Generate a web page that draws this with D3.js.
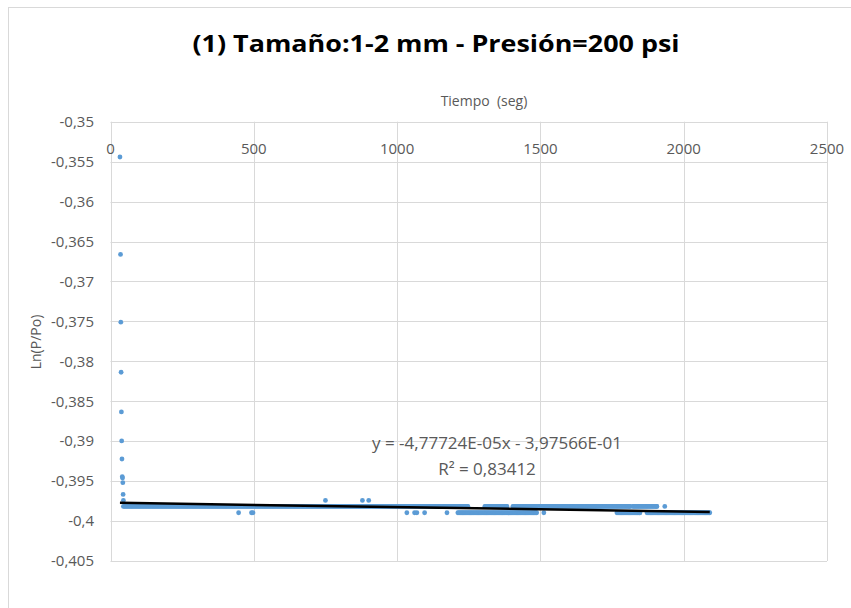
<!DOCTYPE html>
<html>
<head>
<meta charset="utf-8">
<script src="https://cdn.jsdelivr.net/npm/d3@7"></script>
<style>
  html, body { margin: 0; padding: 0; background: #fff; }
  svg { display: block; font-family: "Open Sans", "Noto Sans", sans-serif; }
</style>
</head>
<body>
<svg id="chart" width="851" height="608"></svg>
<script>
// Pressure decay run: Ln(P/Po) against time (s)
const xTicks = [0, 500, 1000, 1500, 2000, 2500];
const yTicks = [-0.35, -0.355, -0.36, -0.365, -0.37, -0.375, -0.38, -0.385,
                -0.39, -0.395, -0.4, -0.405];

// first readings while pressure is still falling
const earlyTimes  = [33, 35, 36, 37, 38, 39, 40, 41, 42, 43, 44, 45];
const earlyValues = [-0.35442, -0.36662, -0.37510, -0.38137, -0.38634, -0.38997,
                     -0.39223, -0.39444, -0.39460, -0.39519, -0.39666, -0.39741];

// three recorded levels once the reading settles
const levels = { high: -0.39742, mid: -0.39817, low: -0.39896 };

// stretches of time (s) logged at each level, sampled every `sampleStep` seconds
const sampleStep = 4;
const midRuns  = [[45, 1247], [1306, 1383], [1404, 1812], [1822, 1906]];
const midSingles = [1934];
const lowRuns  = [[1212, 1487], [1767, 1847], [1872, 2091]];
const lowSingles = [447, 492, 497, 1034, 1061, 1069, 1096, 1174, 1512];
const highSingles = [750, 879, 901];

// trendline as drawn, plus the label it carries
const trendIntercept = -0.39770;
const trendSlope = -5.5e-7;
const eqText = "y = -4,77724E-05x - 3,97566E-01";
const r2Text = "R\u00B2 = 0,83412";

const title = "(1) Tamaño:1-2 mm - Presión=200 psi";
const xTitle = "Tiempo  (seg)";
const yTitle = "Ln(P/Po)";

// build the point table
const points = [];
earlyTimes.forEach((t, i) => points.push({ t, v: earlyValues[i] }));
function addRuns(runs, v) {
  runs.forEach(([a, b]) => {
    for (let t = a; t <= b; t += sampleStep) points.push({ t, v });
    points.push({ t: b, v });
  });
}
addRuns(midRuns, levels.mid);
midSingles.forEach(t => points.push({ t, v: levels.mid }));
addRuns(lowRuns, levels.low);
lowSingles.forEach(t => points.push({ t, v: levels.low }));
highSingles.forEach(t => points.push({ t, v: levels.high }));

const svg = d3.select("#chart");
const grid = "#D9D9D9", textCol = "#595959";

// chart frame
svg.append("rect").attr("x", 8.5).attr("y", 7.5).attr("width", 900).attr("height", 700)
  .attr("fill", "#fff").attr("stroke", grid).attr("stroke-width", 1);

const x = d3.scaleLinear().domain([0, 2500]).range([110.5, 827]);
const y = d3.scaleLinear().domain([-0.405, -0.35]).range([561, 121.7]);

// gridlines
svg.append("g").selectAll("line").data(yTicks).join("line")
  .attr("x1", x(0)).attr("x2", x(2500))
  .attr("y1", d => Math.round(y(d)) + 0.5).attr("y2", d => Math.round(y(d)) + 0.5)
  .attr("stroke", grid).attr("stroke-width", 1);
svg.append("g").selectAll("line").data(xTicks).join("line")
  .attr("x1", d => Math.round(x(d)) + 0.5).attr("x2", d => Math.round(x(d)) + 0.5)
  .attr("y1", y(-0.35)).attr("y2", y(-0.405))
  .attr("stroke", grid).attr("stroke-width", 1);

// tick labels
const fmt = v => String(+v.toFixed(3)).replace(".", ",");
svg.append("g").selectAll("text").data(yTicks).join("text")
  .attr("x", 94).attr("y", d => y(d)).attr("dy", "0.35em")
  .attr("text-anchor", "end").attr("font-size", 15).attr("fill", textCol)
  .text(fmt);
svg.append("g").selectAll("text").data(xTicks).join("text")
  .attr("x", d => x(d)).attr("y", 148.5).attr("dy", "0.35em")
  .attr("text-anchor", "middle").attr("font-size", 15).attr("fill", textCol)
  .text(d => d);

// axis titles
svg.append("text").attr("x", 484).attr("y", 101).attr("dy", "0.35em")
  .attr("text-anchor", "middle").attr("font-size", 14).attr("fill", textCol)
  .style("white-space", "pre").text(xTitle);
svg.append("text").attr("transform", "translate(36,342) rotate(-90)").attr("dy", "0.35em")
  .attr("text-anchor", "middle").attr("font-size", 14).attr("fill", textCol)
  .text(yTitle);

// chart title
svg.append("text").attr("x", 436).attr("y", 52)
  .attr("text-anchor", "middle").attr("font-size", 23).attr("font-weight", "bold")
  .attr("fill", "#000")
  .attr("textLength", 487).attr("lengthAdjust", "spacingAndGlyphs")
  .text(title);

// data points
svg.append("g").selectAll("circle").data(points).join("circle")
  .attr("cx", d => x(d.t)).attr("cy", d => y(d.v)).attr("r", 2.4)
  .attr("fill", "#5B9BD5");

// linear trendline across the data range
const tExt = d3.extent(points, d => d.t);
svg.append("line")
  .attr("x1", x(tExt[0])).attr("y1", y(trendIntercept + trendSlope * tExt[0]))
  .attr("x2", x(tExt[1])).attr("y2", y(trendIntercept + trendSlope * tExt[1]))
  .attr("stroke", "#000").attr("stroke-width", 2.5);

// equation label
svg.append("text").attr("x", 497).attr("y", 449)
  .attr("text-anchor", "middle").attr("font-size", 17).attr("fill", textCol)
  .text(eqText);
svg.append("text").attr("x", 487).attr("y", 475)
  .attr("text-anchor", "middle").attr("font-size", 17).attr("fill", textCol)
  .text(r2Text);
</script>
</body>
</html>
